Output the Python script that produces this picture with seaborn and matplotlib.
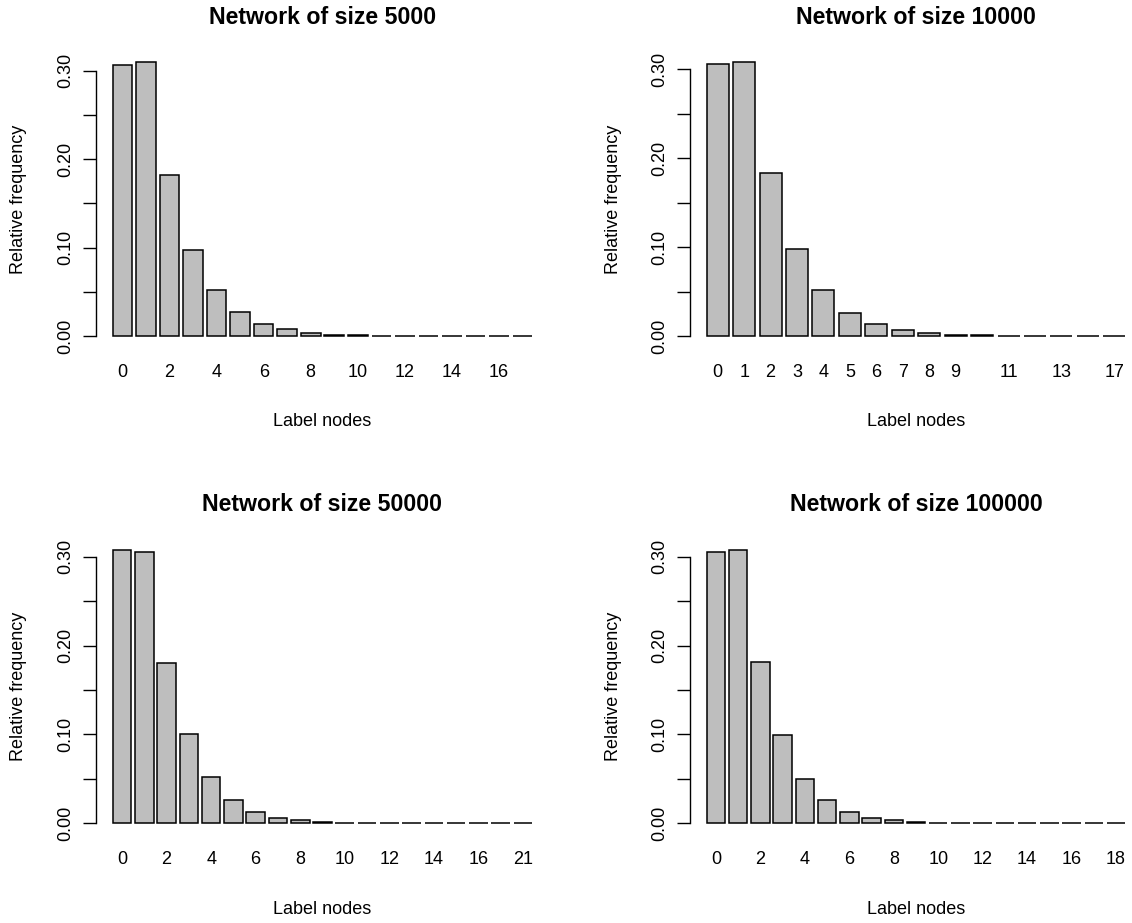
import numpy as np
import pandas as pd
import matplotlib
matplotlib.use("Agg")
import matplotlib.pyplot as plt
import seaborn as sns

# ---------------- data ----------------
titles = ["Network of size 5000", "Network of size 10000",
          "Network of size 50000", "Network of size 100000"]

nodes_5000 = [str(i) for i in range(18)]
freq_5000 = [0.3064, 0.3095, 0.1824, 0.0976, 0.0524, 0.0275, 0.0132, 0.0083,
             0.0034, 0.0012, 0.0010, 0.0002, 0.0002, 0.0002, 0.0002, 0.0002,
             0.0002, 0.0002]
labels_5000 = ["0", "", "2", "", "4", "", "6", "", "8", "", "10", "", "12", "",
               "14", "", "16", ""]

nodes_10000 = [str(i) for i in range(15)] + ["17"]
freq_10000 = [0.3060, 0.3079, 0.1830, 0.0975, 0.0521, 0.0259, 0.0131, 0.0067,
              0.0034, 0.0015, 0.0011, 0.0002, 0.0001, 0.0001, 0.0001, 0.0001]
labels_10000 = ["0", "1", "2", "3", "4", "5", "6", "7", "8", "9", "", "11", "",
                "13", "", "17"]

nodes_50000 = [str(i) for i in range(18)] + ["21"]
freq_50000 = [0.3083, 0.3056, 0.1805, 0.1004, 0.0515, 0.0256, 0.0128, 0.0060,
              0.0030, 0.0015, 0.0004, 0.0002, 0.0001, 0.00006, 0.00004, 0.00002,
              0.00002, 0.00002, 0.00002]
labels_50000 = ["0", "", "2", "", "4", "", "6", "", "8", "", "10", "", "12", "",
                "14", "", "16", "", "21"]

nodes_100000 = [str(i) for i in range(19)]
freq_100000 = [0.3053, 0.3083, 0.1816, 0.0989, 0.0496, 0.0256, 0.0128, 0.0060,
               0.0030, 0.0015, 0.0004, 0.0002, 0.0001, 0.00005, 0.00003, 0.00002,
               0.00001, 0.00001, 0.00001]
labels_100000 = ["0", "", "2", "", "4", "", "6", "", "8", "", "10", "", "12", "",
                 "14", "", "16", "", "18"]

panels = [
    (titles[0], nodes_5000, freq_5000, labels_5000),
    (titles[1], nodes_10000, freq_10000, labels_10000),
    (titles[2], nodes_50000, freq_50000, labels_50000),
    (titles[3], nodes_100000, freq_100000, labels_100000),
]

# ---------------- style ----------------
sns.set_theme(style="white")
plt.rcParams["font.family"] = ["Liberation Sans", "DejaVu Sans"]
plt.rcParams["text.color"] = "black"
plt.rcParams["axes.labelcolor"] = "black"
plt.rcParams["xtick.color"] = "black"
plt.rcParams["ytick.color"] = "black"

W, H = 1132, 923
fig = plt.figure(figsize=(W / 100, H / 100), dpi=100)
fig.patch.set_facecolor("white")

# plot-region boxes in pixels: (left, top, width, height)
boxes = [(96, 51.4, 453, 295.5), (690, 51.4, 452, 295.5),
         (96, 538.6, 453, 295.5), (690, 538.6, 452, 295.5)]

for (title, nodes, freq, labels), (l, t, w, h) in zip(panels, boxes):
    ax = fig.add_axes([l / W, 1 - (t + h) / H, w / W, h / H])
    df = pd.DataFrame({"node": nodes, "freq": freq})
    sns.barplot(data=df, x="node", y="freq", order=nodes, ax=ax,
                color="#BEBEBE", saturation=1, edgecolor="black",
                linewidth=1.1, width=1 / 1.2)
    n = len(nodes)
    span = 1.2 * n - 0.2
    xl = (0.2 - 0.04 * span - 0.7) / 1.2
    xr = (1.2 * n + 0.04 * span - 0.7) / 1.2
    ax.set_xlim(xl, xr)
    m = max(freq)
    ax.set_ylim(-0.04 * m, 1.04 * m)

    ax.set_xticks(range(n))
    ax.set_xticklabels(labels)
    ax.tick_params(axis="x", length=0, pad=12.4, labelsize=13)
    ax.set_yticks([0, 0.05, 0.10, 0.15, 0.20, 0.25, 0.30])
    ax.set_yticklabels(["0.00", "", "0.10", "", "0.20", "", "0.30"],
                       rotation=90, va="center")
    ax.tick_params(axis="y", length=9.4, width=1.0, pad=6.6, labelsize=13,
                   color="black", left=True)
    for s in ["top", "right", "bottom"]:
        ax.spines[s].set_visible(False)
    ax.spines["left"].set_bounds(0, 0.30)
    ax.spines["left"].set_color("black")
    ax.spines["left"].set_linewidth(1.0)

    ax.set_xlabel("Label nodes", fontsize=13, va="center")
    ax.set_ylabel("Relative frequency", fontsize=13, va="center")
    ax.xaxis.set_label_coords(0.5, -75 / h)
    ax.yaxis.set_label_coords(-77 / w, 0.5)
    ax.set_title(title, fontweight="bold", fontsize=16.7, y=1 + 34.4 / h,
                 va="center", pad=0)
    ax.grid(False)

fig.savefig("out.png", dpi=100, facecolor="white")
